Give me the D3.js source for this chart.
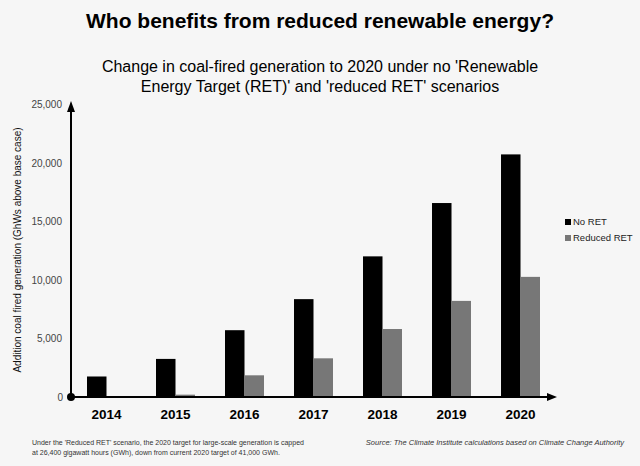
<!DOCTYPE html><html><head><script src="https://cdn.jsdelivr.net/npm/d3@7"></script>
<style>body{margin:0;background:#f6f6f6}svg{font-family:"Liberation Sans",Arial,sans-serif}</style></head><body>
<svg id="c" width="640" height="466"></svg>
<script>
const years=["2014","2015","2016","2017","2018","2019","2020"];
const noRET=[1750,3250,5700,8350,12000,16550,20700];
const reducedRET=[0,200,1850,3300,5800,8200,10250];
const yTicks=[0,5000,10000,15000,20000,25000];
const svg=d3.select("#c");
svg.append("rect").attr("width",640).attr("height",466).attr("fill","#f6f6f6");
const y=d3.scaleLinear().domain([0,25000]).range([397,104]);
const x=d3.scaleBand().domain(years).range([87,540]).paddingInner(0.435).paddingOuter(0);
const bw=x.bandwidth()/2;
years.forEach((yr,i)=>{
 svg.append("rect").attr("x",x(yr)).attr("width",bw).attr("y",y(noRET[i])).attr("height",y(0)-y(noRET[i])).attr("fill","#000");
 svg.append("rect").attr("x",x(yr)+bw).attr("width",bw).attr("y",y(reducedRET[i])).attr("height",y(0)-y(reducedRET[i])).attr("fill","#777");
 svg.append("text").attr("x",x(yr)+bw).attr("y",419).attr("text-anchor","middle").attr("font-weight","bold").attr("font-size",13.5).text(yr);
});
svg.append("line").attr("x1",71).attr("x2",71).attr("y1",397).attr("y2",110).attr("stroke","#000").attr("stroke-width",2);
svg.append("path").attr("d","M67,112 L71,101 L75,112Z").attr("fill","#000");
svg.append("line").attr("x1",71).attr("x2",550).attr("y1",397).attr("y2",397).attr("stroke","#000").attr("stroke-width",2);
svg.append("path").attr("d","M547,393 L557,397 L547,401Z").attr("fill","#000");
svg.append("circle").attr("cx",71).attr("cy",397).attr("r",4).attr("fill","#000");
yTicks.forEach(t=>svg.append("text").attr("x",t===0?63:62).attr("y",y(t)+4).attr("text-anchor","end").attr("font-size",10).attr("fill","#444").text(t===0?"0":d3.format(",")(t)));
svg.append("text").attr("transform","translate(21,250) rotate(-90)").attr("text-anchor","middle").attr("font-size",10).attr("fill","#111").text("Addition coal fired generation (GhWs above base case)");
svg.append("text").attr("x",320).attr("y",28).attr("text-anchor","middle").attr("font-weight","bold").attr("font-size",21).text("Who benefits from reduced renewable energy?");
svg.append("text").attr("x",320).attr("y",72).attr("text-anchor","middle").attr("font-size",16).text("Change in coal-fired generation to 2020 under no 'Renewable");
svg.append("text").attr("x",320).attr("y",92).attr("text-anchor","middle").attr("font-size",16).text("Energy Target (RET)' and 'reduced RET' scenarios");
[["No RET","#000",225],["Reduced RET","#777",241]].forEach(([l,c,yy])=>{
 svg.append("rect").attr("x",565).attr("y",yy-6).attr("width",6).attr("height",6).attr("fill",c);
 svg.append("text").attr("x",573).attr("y",yy).attr("font-size",9.5).attr("fill","#222").text(l);
});
svg.append("text").attr("x",32).attr("y",445).attr("font-size",7).attr("fill","#333").text("Under the 'Reduced RET' scenario, the 2020 target for large-scale generation is capped");
svg.append("text").attr("x",32).attr("y",455).attr("font-size",7).attr("fill","#333").text("at 26,400 gigawatt hours (GWh), down from current 2020 target of 41,000 GWh.");
svg.append("text").attr("x",624).attr("y",445).attr("text-anchor","end").attr("font-size",7.5).attr("font-style","italic").attr("fill","#333").text("Source: The Climate Institute calculations based on Climate Change Authority");
</script></body></html>
